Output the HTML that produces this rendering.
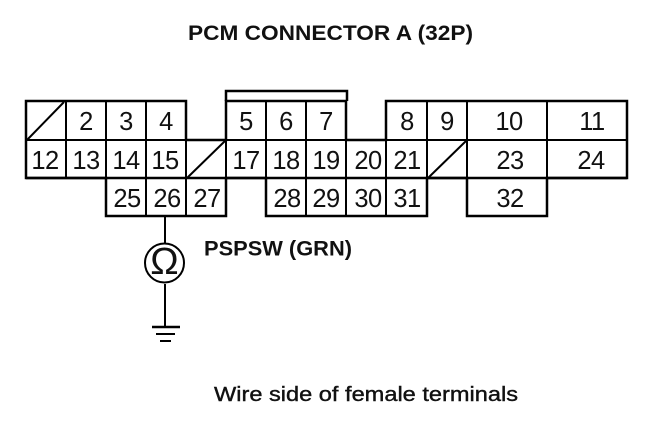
<!DOCTYPE html>
<html><head><meta charset="utf-8"><style>
html,body{margin:0;padding:0;background:#fff;width:672px;height:426px;overflow:hidden}
svg{display:block}
text{font-family:"Liberation Sans",sans-serif;fill:#111}
.n{font-size:25.500px;text-anchor:middle;letter-spacing:-0.500px}
.b{font-weight:bold}
</style></head><body>
<svg width="672" height="426" viewBox="0 0 672 426" xmlns="http://www.w3.org/2000/svg">
<text class="b" x="188" y="40" font-size="21.500" textLength="285" lengthAdjust="spacingAndGlyphs">PCM CONNECTOR A (32P)</text>
<g fill="none" stroke="#000" stroke-width="2">
<path stroke-width="2.5" d="M226 101V91H347V101"/>
<path stroke-width="2.5" d="M26 101H186V140H226V101H346V140H386V101H627V178H547V216H467V178H427V216H266V178H226V216H106V178H26Z"/>
<path d="M26 140H627M66 101V178M106 101V178M146 101V216M186 140V216M226 140V178M266 101V178M306 101V216M346 140V216M386 140V216M427 101V178M467 101V178M547 101V178"/>
<path stroke-width="2.5" d="M26 178H627"/>
<path d="M27 140L64 102M187 178L225 141M428 178L466 141"/>
<path d="M165 216V243M165 284V327"/>
<circle cx="164.500" cy="263" r="19.500"/>
<path stroke-width="2.500" d="M152 327H180"/>
<path d="M156 334H175M160 341H171"/>
</g>
<text x="164.500" y="274" font-size="38" text-anchor="middle">Ω</text>
<g class="n">
<text class="n" x="86" y="130">2</text>
<text class="n" x="126" y="130">3</text>
<text class="n" x="166" y="130">4</text>
<text class="n" x="246" y="130">5</text>
<text class="n" x="286" y="130">6</text>
<text class="n" x="326" y="130">7</text>
<text class="n" x="407" y="130">8</text>
<text class="n" x="447" y="130">9</text>
<text class="n" x="509" y="130">10</text>
<text class="n" x="592" y="130">11</text>
<text class="n" x="45" y="169">12</text>
<text class="n" x="86" y="169">13</text>
<text class="n" x="126" y="169">14</text>
<text class="n" x="165" y="169">15</text>
<text class="n" x="246" y="169">17</text>
<text class="n" x="286" y="169">18</text>
<text class="n" x="326" y="169">19</text>
<text class="n" x="368" y="169">20</text>
<text class="n" x="407" y="169">21</text>
<text class="n" x="510" y="169">23</text>
<text class="n" x="591" y="169">24</text>
<text class="n" x="127" y="207">25</text>
<text class="n" x="167" y="207">26</text>
<text class="n" x="207" y="207">27</text>
<text class="n" x="287" y="207">28</text>
<text class="n" x="326" y="207">29</text>
<text class="n" x="368" y="207">30</text>
<text class="n" x="407" y="207">31</text>
<text class="n" x="510" y="207">32</text>
</g>
<text class="b" x="204" y="255.500" font-size="21" textLength="148" lengthAdjust="spacingAndGlyphs">PSPSW (GRN)</text>
<text x="214" y="401" font-size="20" stroke="#111" stroke-width="0.400" textLength="304" lengthAdjust="spacingAndGlyphs">Wire side of female terminals</text>
</svg>
</body></html>
